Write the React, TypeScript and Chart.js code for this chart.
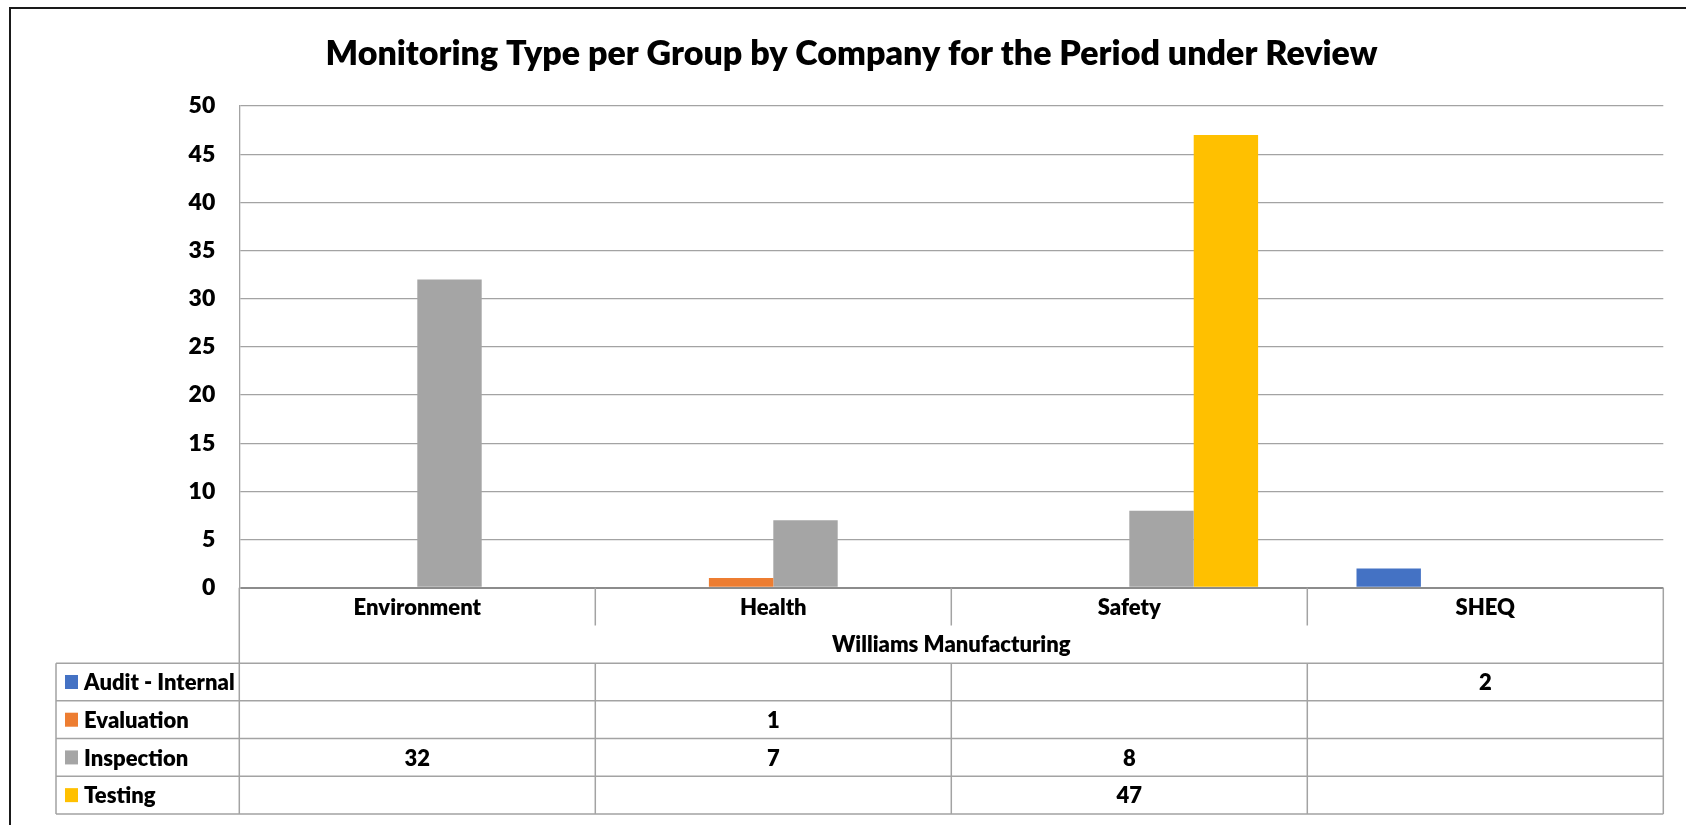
import React, { useEffect, useRef } from 'react';
import { Chart, registerables } from 'chart.js';

Chart.register(...registerables);

const TITLE = 'Monitoring Type per Group by Company for the Period under Review';
const GROUP_LABEL = 'Williams Manufacturing';
const categories = ['Environment', 'Health', 'Safety', 'SHEQ'];
const seriesNames = ['Audit - Internal', 'Evaluation', 'Inspection', 'Testing'];
const seriesColors = ['#4472C4', '#ED7D31', '#A5A5A5', '#FFC000'];
const auditInternal = [null, null, null, 2];
const evaluation = [null, 1, null, null];
const inspection = [32, 7, 8, null];
const testing = [null, null, 47, null];
const seriesValues = [auditInternal, evaluation, inspection, testing];
const yTicksMin = 0;
const yTicksMax = 50;
const yTicksStep = 5;

const FONT = "Lato, 'Open Sans', sans-serif";
const WEIGHT = '800';
const LINE = '#A3A3A3';

const tablePlugin = {
  id: 'tableAndFrame',
  beforeDraw(chart: any) {
    const ctx = chart.ctx;
    ctx.save();
    ctx.fillStyle = '#FFFFFF';
    ctx.fillRect(0, 0, chart.width, chart.height);
    ctx.restore();
  },
  afterDraw(chart: any) {
    const ctx = chart.ctx;
    const ca = chart.chartArea;
    const xs = chart.scales.x;
    const n = categories.length;
    const bounds: number[] = [ca.left];
    for (let i = 0; i < n - 1; i++) {
      bounds.push((xs.getPixelForValue(i) + xs.getPixelForValue(i + 1)) / 2);
    }
    bounds.push(ca.right);
    const top = ca.bottom;
    const rowH = xs.height / 6;
    const bottom = top + rowH * 6;
    const tableLeft = 56;

    ctx.save();
    // frame
    ctx.strokeStyle = '#1A1A1A';
    ctx.lineWidth = 2;
    ctx.beginPath();
    ctx.moveTo(10, chart.height + 2);
    ctx.lineTo(10, 8);
    ctx.lineTo(chart.width + 2, 8);
    ctx.stroke();

    ctx.strokeStyle = LINE;
    ctx.lineWidth = 1.5;
    ctx.beginPath();
    for (let i = 1; i < bounds.length - 1; i++) {
      ctx.moveTo(bounds[i], top);
      ctx.lineTo(bounds[i], top + rowH);
    }
    ctx.moveTo(ca.left, top);
    ctx.lineTo(ca.left, bottom);
    ctx.moveTo(ca.right, top);
    ctx.lineTo(ca.right, bottom);
    for (let r = 2; r <= 6; r++) {
      const y = top + r * rowH;
      ctx.moveTo(tableLeft, y);
      ctx.lineTo(ca.right, y);
    }
    ctx.moveTo(tableLeft, top + 2 * rowH);
    ctx.lineTo(tableLeft, bottom);
    for (let i = 1; i < bounds.length - 1; i++) {
      ctx.moveTo(bounds[i], top + 2 * rowH);
      ctx.lineTo(bounds[i], bottom);
    }
    ctx.stroke();

    ctx.fillStyle = '#000000';
    ctx.font = `${WEIGHT} 22px ${FONT}`;
    ctx.textBaseline = 'middle';
    ctx.textAlign = 'center';
    for (let i = 0; i < n; i++) {
      ctx.fillText(categories[i], (bounds[i] + bounds[i + 1]) / 2, top + rowH / 2 + 1);
    }
    ctx.fillText(GROUP_LABEL, (ca.left + ca.right) / 2, top + 1.5 * rowH + 1);

    for (let r = 0; r < seriesNames.length; r++) {
      const cy = top + (2 + r + 0.5) * rowH;
      ctx.fillStyle = seriesColors[r];
      ctx.fillRect(65, cy - 7, 13, 14);
      ctx.fillStyle = '#000000';
      ctx.textAlign = 'left';
      ctx.fillText(seriesNames[r], 84, cy + 1);
      ctx.textAlign = 'center';
      const vals = seriesValues[r];
      for (let i = 0; i < n; i++) {
        const v = vals[i];
        if (v !== null && v !== undefined) {
          ctx.fillText(String(v), (bounds[i] + bounds[i + 1]) / 2, cy + 1);
        }
      }
    }
    ctx.restore();
  },
};

export default function App() {
  const canvasRef = useRef<HTMLCanvasElement | null>(null);

  useEffect(() => {
    if (!canvasRef.current) return;
    const chart = new Chart(canvasRef.current, {
      type: 'bar',
      data: {
        labels: categories,
        datasets: seriesNames.map((name, i) => ({
          label: name,
          data: seriesValues[i] as any,
          backgroundColor: seriesColors[i],
          borderWidth: 0,
          categoryPercentage: 0.7236,
          barPercentage: 1,
        })),
      },
      options: {
        animation: false,
        responsive: true,
        maintainAspectRatio: false,
        layout: { padding: { left: 39.7, right: 22.7, top: 8, bottom: 11 } },
        plugins: {
          legend: { display: false },
          tooltip: { enabled: false },
          title: {
            display: true,
            text: TITLE,
            color: '#000000',
            font: { family: FONT, size: 34, weight: WEIGHT as any, lineHeight: 1.2 },
            padding: { top: 25.6, bottom: 31.6 },
          },
        },
        scales: {
          x: {
            grid: { display: false, drawTicks: false },
            border: { display: false },
            ticks: { display: false },
            afterFit: (scale: any) => {
              scale.height = 226.3;
            },
          },
          y: {
            min: yTicksMin,
            max: yTicksMax,
            ticks: {
              stepSize: yTicksStep,
              padding: 24,
              color: '#000000',
              font: { family: FONT, size: 23, weight: WEIGHT as any },
            },
            grid: {
              drawTicks: false,
              color: (c: any) => (c.tick && c.tick.value === 0 ? '#8C8C8C' : LINE),
              lineWidth: (c: any) => (c.tick && c.tick.value === 0 ? 2 : 1.3),
            },
            border: { display: true, color: LINE, width: 1.3 },
            afterFit: (scale: any) => {
              scale.width = 199.6;
            },
          },
        },
      },
      plugins: [tablePlugin],
    });
    return () => chart.destroy();
  }, []);

  return (
    <div style={{ position: 'absolute', left: 0, top: 0, width: 1686, height: 825, background: '#fff' }}>
      <canvas ref={canvasRef} />
    </div>
  );
}
